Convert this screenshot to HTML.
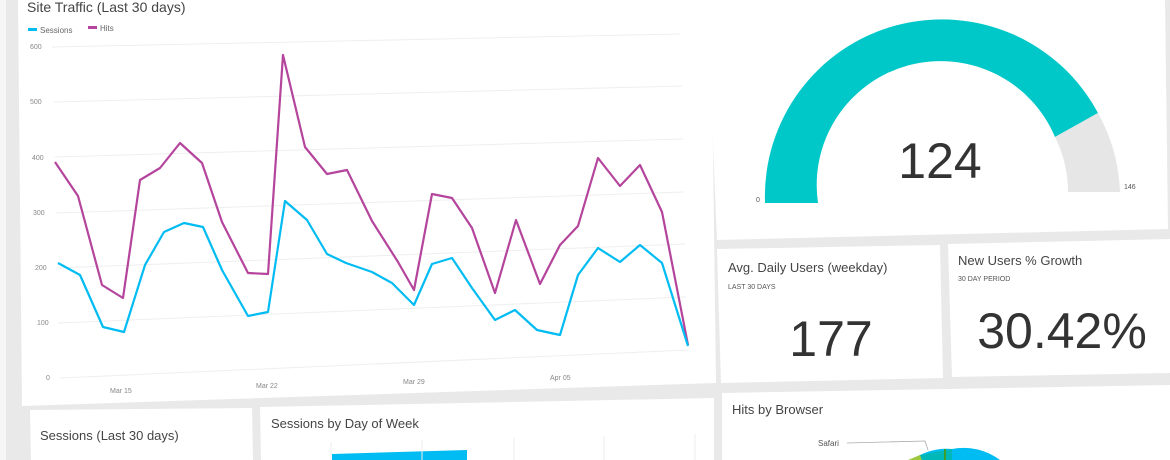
<!DOCTYPE html>
<html><head><meta charset="utf-8"><style>
html,body{margin:0;padding:0;background:#e9e9e9;width:1170px;height:460px;overflow:hidden}
svg{display:block}
text{font-family:"Liberation Sans",sans-serif}
</style></head><body>
<svg width="1170" height="460" viewBox="0 0 1170 460">
<rect width="1170" height="460" fill="#e9e9e9"/>
<rect x="0" y="0" width="6" height="460" fill="#f6f6f6"/>
<!-- panels -->
<polygon points="18,0 711,0 716,383 22,406" fill="#fff"/>
<polygon points="707,0 1165,0 1168,229 717,240" fill="#fff"/>
<polygon points="717,249 940,245 943,378 721,383" fill="#fff"/>
<polygon points="948,244 1170,239 1170,373 952,377" fill="#fff"/>
<polygon points="722,393 1170,385 1170,460 722,460" fill="#fff"/>
<polygon points="30,410 252,408 253,460 31,460" fill="#fff"/>
<polygon points="260,407 714,398 714,460 261,460" fill="#fff"/>

<!-- main chart -->
<text x="27" y="12" font-size="14" fill="#444">Site Traffic (Last 30 days)</text>
<rect x="28" y="28" width="9" height="3" fill="#00bcf2"/>
<text x="40" y="33" font-size="8" fill="#666">Sessions</text>
<rect x="88" y="26" width="9" height="3" fill="#b4449c"/>
<text x="100" y="31" font-size="8" fill="#666">Hits</text>
<g stroke="#eeeeee" stroke-width="1">
<line x1="52" y1="47" x2="680" y2="34"/>
<line x1="54" y1="102" x2="682" y2="86"/>
<line x1="55" y1="157" x2="683" y2="139"/>
<line x1="56" y1="213" x2="684" y2="192"/>
<line x1="57" y1="268" x2="685" y2="244"/>
<line x1="58" y1="323" x2="686" y2="297"/>
<line x1="60" y1="378" x2="688" y2="350"/>
</g>
<g font-size="7" fill="#888">
<text x="30" y="49">600</text><text x="30" y="104">500</text><text x="32" y="160">400</text>
<text x="33" y="215">300</text><text x="35" y="270">200</text><text x="37" y="325">100</text>
<text x="46" y="380">0</text>
<text x="110" y="393">Mar 15</text><text x="256" y="388">Mar 22</text>
<text x="403" y="384">Mar 29</text><text x="550" y="380">Apr 05</text>
</g>
<polyline fill="none" stroke="#b4449c" stroke-width="2.2" stroke-linejoin="round" points="55,162 78,196 102,285 123,298 140,180 160,168 180,143 202,163 222,222 248,273 268,274 283,55 305,147 327,174 347,170 372,221 398,262 414,290 432,194 452,198 472,228 495,293 516,220 540,284 560,245 578,226 598,158 620,186 640,165 662,212 688,345"/>
<polyline fill="none" stroke="#00bcf2" stroke-width="2.2" stroke-linejoin="round" points="58,263 80,275 103,327 124,332 145,265 164,232 184,223 203,227 222,270 248,316 268,312 285,201 307,220 327,254 346,263 372,272 392,283 414,305 432,264 452,258 472,288 495,320 515,310 537,330 560,335 578,275 598,248 620,262 640,245 662,263 688,346"/>

<!-- gauge -->
<path d="M765,203 A177,177 0 0 1 1098,113 L1055,137 A124,124 0 0 0 818,203 Z" fill="#01c8c8"/>
<path d="M1098,113 A177,177 0 0 1 1120,192 L1068,192 A124,124 0 0 0 1055,137 Z" fill="#e6e6e6"/>
<text x="940" y="178" font-size="50" fill="#333" text-anchor="middle">124</text>
<text x="756" y="202" font-size="7" fill="#555">0</text>
<text x="1124" y="189" font-size="7" fill="#555">146</text>

<text x="728" y="272" font-size="13" fill="#444">Avg. Daily Users (weekday)</text>
<text x="728" y="289" font-size="7" fill="#555">LAST 30 DAYS</text>
<text x="831" y="356" font-size="50" fill="#333" text-anchor="middle">177</text>

<text x="958" y="265" font-size="13" fill="#444">New Users % Growth</text>
<text x="958" y="281" font-size="7" fill="#555">30 DAY PERIOD</text>
<text x="1062" y="348" font-size="50" fill="#333" text-anchor="middle">30.42%</text>

<text x="732" y="414" font-size="13" fill="#444">Hits by Browser</text>
<text x="818" y="446" font-size="8" fill="#555">Safari</text>
<polyline points="847,443 925,441 928,450" fill="none" stroke="#aaa" stroke-width="0.8"/>
<path d="M952,449 A60,60 0 0 1 1000,460 L912,460 A60,60 0 0 1 952,449 Z" fill="#00bcf2"/>
<path d="M920,455 L952,449 L952,460 L910,460 Z" fill="#01b8b8"/>
<path d="M908,460 L920,455 L922,460 Z" fill="#9cc83c"/>
<rect x="944" y="449" width="2" height="11" fill="#3ca02c"/>

<text x="40" y="440" font-size="13" fill="#444">Sessions (Last 30 days)</text>
<text x="271" y="428" font-size="13" fill="#444">Sessions by Day of Week</text>
<polygon points="332,454 467,450 467,460 332,460" fill="#00bcf2"/>
<g stroke="#eee"><line x1="331" y1="442" x2="331" y2="460"/><line x1="422" y1="440" x2="422" y2="460"/><line x1="514" y1="438" x2="514" y2="460"/><line x1="604" y1="436" x2="604" y2="460"/><line x1="695" y1="434" x2="695" y2="460"/></g>
</svg>
</body></html>
